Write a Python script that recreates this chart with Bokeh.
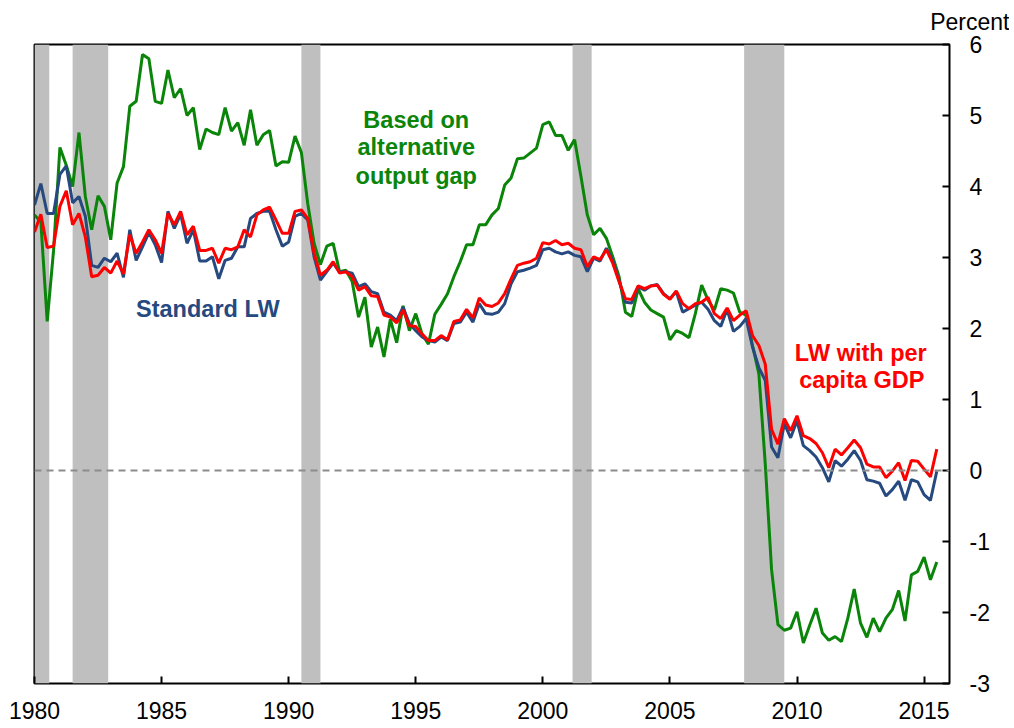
from bokeh.plotting import figure
from bokeh.models import Label, Span, FixedTicker, Title
from bokeh.embed import file_html
from bokeh.resources import INLINE

# Quarterly data, 1980Q1 .. 2015Q3
start_year = 1980
alt_gap = [3.6, 3.5, 2.1, 3.1, 4.55, 4.3, 4.0, 4.76, 3.86, 3.39, 3.87, 3.72, 3.25, 4.05, 4.28, 5.13,
           5.2, 5.86, 5.8, 5.2, 5.17, 5.64, 5.25, 5.38, 5.0, 5.11, 4.52, 4.81, 4.76, 4.73, 5.11, 4.78,
           4.9, 4.58, 5.08, 4.58, 4.73, 4.79, 4.29, 4.35, 4.34, 4.71, 4.48, 3.76, 3.2, 2.9, 3.16, 3.2,
           2.8, 2.82, 2.66, 2.16, 2.44, 1.74, 2.02, 1.6, 2.13, 1.8, 2.32, 1.97, 2.21, 1.92, 1.78, 2.2,
           2.34, 2.49, 2.73, 2.94, 3.18, 3.18, 3.46, 3.46, 3.6, 3.69, 4.02, 4.12, 4.39, 4.4, 4.47, 4.54,
           4.87, 4.91, 4.72, 4.72, 4.51, 4.66, 4.14, 3.6, 3.32, 3.41, 3.27, 3.01, 2.73, 2.23, 2.17, 2.56,
           2.37, 2.26, 2.21, 2.16, 1.84, 1.97, 1.93, 1.87, 2.21, 2.61, 2.4, 2.26, 2.56, 2.54, 2.5, 2.23,
           2.19, 1.76, 1.36, 0.1, -1.4, -2.17, -2.25, -2.22, -1.99, -2.43, -2.18, -1.94, -2.29, -2.39,
           -2.34, -2.41, -2.08, -1.67, -2.15, -2.35, -2.08, -2.27, -2.08, -1.96, -1.69, -2.12, -1.47,
           -1.42, -1.22, -1.54, -1.29]
standard_lw = [3.74, 4.04, 3.62, 3.62, 4.17, 4.29, 3.77, 3.86, 3.58, 2.89, 2.86, 2.99, 2.94, 3.06, 2.72,
               3.39, 2.96, 3.15, 3.35, 3.18, 2.93, 3.65, 3.41, 3.61, 3.2, 3.39, 2.95, 2.95, 3.01, 2.7,
               2.96, 2.99, 3.15, 3.15, 3.55, 3.62, 3.65, 3.65, 3.39, 3.16, 3.22, 3.58, 3.62, 3.53, 3.01,
               2.68, 2.8, 2.92, 2.8, 2.8, 2.78, 2.59, 2.63, 2.52, 2.49, 2.23, 2.19, 2.11, 2.3, 2.07,
               1.97, 1.88, 1.83, 1.81, 1.88, 1.83, 2.07, 2.09, 2.23, 2.09, 2.35, 2.21, 2.2, 2.23, 2.35,
               2.63, 2.8, 2.82, 2.85, 2.89, 3.11, 3.13, 3.08, 3.05, 3.08, 3.03, 3.01, 2.8, 2.99, 2.95,
               3.13, 2.96, 2.68, 2.37, 2.36, 2.59, 2.54, 2.6, 2.62, 2.49, 2.42, 2.52, 2.23, 2.28, 2.33,
               2.37, 2.27, 2.11, 2.03, 2.27, 1.96, 2.03, 2.14, 1.74, 1.45, 1.27, 0.33, 0.18, 0.66, 0.46,
               0.7, 0.35, 0.28, 0.19, 0.04, -0.16, 0.14, 0.06, 0.16, 0.28, 0.14, -0.13, -0.15, -0.18,
               -0.36, -0.27, -0.15, -0.42, -0.13, -0.16, -0.34, -0.42, -0.01]
per_capita = [3.36, 3.61, 3.14, 3.16, 3.72, 3.94, 3.46, 3.62, 3.29, 2.73, 2.75, 2.86, 2.78, 2.95, 2.77,
              3.32, 3.06, 3.22, 3.39, 3.25, 3.06, 3.62, 3.46, 3.65, 3.32, 3.44, 3.1, 3.1, 3.13, 2.92,
              3.13, 3.11, 3.15, 3.39, 3.29, 3.6, 3.67, 3.71, 3.53, 3.34, 3.34, 3.65, 3.67, 3.55, 3.06,
              2.75, 2.82, 2.94, 2.78, 2.8, 2.73, 2.54, 2.59, 2.46, 2.45, 2.19, 2.16, 2.08, 2.26, 2.04,
              2.03, 1.92, 1.83, 1.83, 1.9, 1.84, 2.1, 2.12, 2.27, 2.15, 2.43, 2.33, 2.31, 2.36, 2.49,
              2.7, 2.89, 2.92, 2.94, 2.99, 3.21, 3.19, 3.24, 3.18, 3.2, 3.13, 3.11, 2.87, 3.01, 2.97,
              3.11, 2.92, 2.66, 2.42, 2.41, 2.6, 2.56, 2.6, 2.61, 2.48, 2.41, 2.53, 2.35, 2.28, 2.35,
              2.37, 2.44, 2.21, 2.14, 2.29, 2.11, 2.19, 2.25, 1.9, 1.76, 1.5, 0.58, 0.37, 0.73, 0.56,
              0.77, 0.49, 0.45, 0.38, 0.25, 0.04, 0.3, 0.22, 0.32, 0.43, 0.32, 0.09, 0.05, 0.05, -0.1,
              -0.01, 0.11, -0.14, 0.14, 0.13, 0.02, -0.09, 0.3]

quarters = [start_year + i / 4 for i in range(len(alt_gap))]

# NBER recessions (fractional years)
rec_start = [1980.0, 1981.5, 1990.5, 2001.17, 2007.92]
rec_end = [1980.58, 1982.9, 1991.25, 2001.92, 2009.5]

x_ticks = [1980, 1985, 1990, 1995, 2000, 2005, 2010, 2015]
y_ticks = [-3, -2, -1, 0, 1, 2, 3, 4, 5, 6]

FONT = "Liberation Sans"
GREEN = "#0a850a"
BLUE = "#26497f"
RED = "#ff0000"

p = figure(frame_width=915, frame_height=639, x_range=(1980, 2016), y_range=(-3, 6),
           output_backend="svg", toolbar_location=None, y_axis_location="right",
           min_border_left=34, min_border_top=44, min_border_right=60, min_border_bottom=42)
p.background_fill_color = "white"
p.border_fill_color = "white"
p.outline_line_color = "black"
p.outline_line_width = 2
p.grid.visible = False

for ax in (p.xaxis[0], p.yaxis[0]):
    ax.axis_line_color = None
    ax.major_tick_in = 7
    ax.major_tick_out = 0
    ax.major_tick_line_width = 2
    ax.major_tick_line_color = "black"
    ax.minor_tick_line_color = None
    ax.major_label_text_font = FONT
    ax.major_label_text_font_size = "23px"
    ax.major_label_text_color = "black"
p.xaxis[0].ticker = FixedTicker(ticks=x_ticks)
p.yaxis[0].ticker = FixedTicker(ticks=y_ticks)
p.yaxis[0].major_label_overrides = {t: str(t) for t in y_ticks}
p.xaxis[0].major_label_standoff = 18
p.yaxis[0].major_label_standoff = 20

# recession shading
p.quad(left=rec_start, right=rec_end, bottom=-3, top=6, fill_color="#bfbfbf", line_color=None)

p.add_layout(Span(location=0, dimension="width", line_color="#8c8c8c", line_width=2,
                  line_dash="7 5"))

p.line(quarters, alt_gap, line_color=GREEN, line_width=3)
p.line(quarters, standard_lw, line_color=BLUE, line_width=3)
p.line(quarters, per_capita, line_color=RED, line_width=3)

def lab(x, y, text, color):
    p.add_layout(Label(x=x, y=y, text=text, text_color=color, text_font=FONT,
                       text_font_size="23.5px", text_font_style="bold",
                       text_align="center", text_baseline="middle"))

lab(1995.02, 4.94, "Based on", GREEN)
lab(1995.02, 4.55, "alternative", GREEN)
lab(1995.02, 4.15, "output gap", GREEN)
lab(1986.82, 2.27, "Standard LW", BLUE)
lab(2012.51, 1.66, "LW with per", RED)
lab(2012.55, 1.27, "capita GDP", RED)

p.add_layout(Title(text="Percent", align="right", offset=-60, vertical_align="top",
                   standoff=15, text_line_height=1.0, text_font=FONT, text_font_size="23px",
                   text_font_style="normal", text_color="black"), "above")

open("out.html", "w").write(file_html(p, INLINE))
